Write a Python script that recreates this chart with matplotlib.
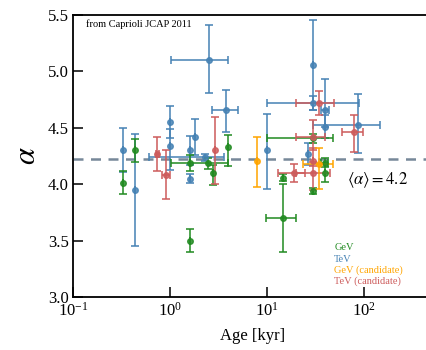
import numpy as np
import matplotlib
matplotlib.use("Agg")
import matplotlib.pyplot as plt

plt.rcParams['font.family'] = ['Liberation Serif', 'DejaVu Serif']
plt.rcParams['mathtext.fontset'] = 'stix'

# GeV detections: age [kyr], alpha, alpha err (-,+), age range (lo, hi)
gev_age = [0.33, 0.44, 1.61, 1.61, 2.48, 2.79, 3.99, 14.7, 14.7, 29.6, 29.6, 39.6, 39.6]
gev_alpha = [4.01, 4.30, 3.50, 4.19, 4.185, 4.10, 4.33, 4.06, 3.70, 4.41, 3.94, 4.19, 4.10]
gev_alo = [0.10, 0.10, 0.10, 0.07, 0.05, 0.11, 0.17, 0.03, 0.30, 0.04, 0.03, 0.04, 0.08]
gev_ahi = [0.11, 0.10, 0.10, 0.07, 0.05, 0.07, 0.11, 0.03, 0.30, 0.04, 0.03, 0.04, 0.08]
gev_tlo = [0.33, 0.44, 1.61, 1.61, 1.02, 2.79, 3.99, 14.7, 9.8, 9.9, 29.6, 36.5, 39.6]
gev_thi = [0.33, 0.44, 1.61, 1.61, 3.94, 2.79, 3.99, 14.7, 19.8, 47.8, 29.6, 43.0, 39.6]

# TeV detections
tev_age = [0.33, 0.44, 1.0, 1.0, 1.61, 1.81, 1.61, 2.30, 2.52, 3.75, 9.9, 29.6, 29.6, 39.6, 39.6, 87.0, 26.7]
tev_alpha = [4.30, 3.95, 4.55, 4.34, 4.30, 4.42, 4.05, 4.24, 5.10, 4.66, 4.30, 5.06, 4.72, 4.66, 4.51, 4.53, 4.27]
tev_alo = [0.19, 0.50, 0.14, 0.21, 0.13, 0.16, 0.04, 0.03, 0.29, 0.20, 0.34, 0.40, 0.06, 0.15, 0.10, 0.25, 0.10]
tev_ahi = [0.20, 0.50, 0.14, 0.15, 0.13, 0.16, 0.04, 0.03, 0.31, 0.18, 0.32, 0.40, 0.06, 0.27, 0.10, 0.27, 0.10]
tev_tlo = [0.33, 0.44, 1.0, 1.0, 1.61, 1.81, 1.61, 0.61, 1.02, 2.69, 9.9, 29.6, 9.9, 36.0, 39.6, 29.8, 26.7]
tev_thi = [0.33, 0.44, 1.0, 1.0, 1.61, 1.81, 1.61, 3.6, 3.99, 5.06, 9.9, 29.6, 88.0, 43.5, 39.6, 146.0, 26.7]

# GeV candidates
gevc_age = [7.94, 34.6]
gevc_alpha = [4.21, 4.18]
gevc_alo = [0.23, 0.22]
gevc_ahi = [0.21, 0.14]
gevc_tlo = [7.94, 23.7]
gevc_thi = [7.94, 48.2]

# TeV candidates
tevc_age = [0.74, 0.90, 2.91, 34.6, 29.6, 29.6, 19.0, 29.6, 78.9]
tevc_alpha = [4.27, 4.08, 4.30, 4.72, 4.42, 4.21, 4.10, 4.10, 4.46]
tevc_alo = [0.15, 0.21, 0.30, 0.11, 0.12, 0.05, 0.08, 0.15, 0.17]
tevc_ahi = [0.15, 0.22, 0.30, 0.11, 0.15, 0.11, 0.08, 0.10, 0.15]
tevc_tlo = [0.71, 0.82, 2.91, 19.9, 19.9, 29.6, 13.1, 20.0, 58.9]
tevc_thi = [0.77, 0.99, 2.91, 49.1, 40.0, 29.6, 24.7, 45.0, 98.0]

mean_alpha = 4.22

series = [
    ("TeV", '#4682b4', tev_age, tev_alpha, tev_alo, tev_ahi, tev_tlo, tev_thi),
    ("GeV", '#228b22', gev_age, gev_alpha, gev_alo, gev_ahi, gev_tlo, gev_thi),
    ("TeV (candidate)", '#cd5c5c', tevc_age, tevc_alpha, tevc_alo, tevc_ahi, tevc_tlo, tevc_thi),
    ("GeV (candidate)", '#ffa500', gevc_age, gevc_alpha, gevc_alo, gevc_ahi, gevc_tlo, gevc_thi),
]

fig = plt.figure(figsize=(4.27, 3.5), dpi=100)
ax = fig.add_axes([0.171, 0.151, 0.84, 0.806])

ax.axhline(mean_alpha, color='#778899', lw=1.8, ls=(0, (4, 3)), zorder=1)

for name, col, t, a, alo, ahi, tlo, thi in series:
    t = np.array(t)
    xerr = [t - np.array(tlo), np.array(thi) - t]
    yerr = [alo, ahi]
    ax.errorbar(t, a, yerr=yerr, xerr=xerr, fmt='o', color=col, ms=4,
                ecolor=col, elinewidth=1.3, capsize=3, capthick=1.3,
                alpha=0.85, zorder=2)

ax.set_xscale('log')
ax.set_xlim(0.1, 500)
ax.set_ylim(3.0, 5.5)
ax.set_yticks([3.0, 3.5, 4.0, 4.5, 5.0, 5.5])
ax.set_xticks([0.1, 1, 10, 100])
ax.minorticks_off()
ax.tick_params(direction='in', length=7.5, width=1.1, labelsize=12, pad=3)
for s in ax.spines.values():
    s.set_linewidth(1.3)
ax.spines['right'].set_visible(False)

ax.set_xlabel('Age [kyr]', fontsize=12, labelpad=6)
ax.set_ylabel(r'$\alpha$', fontsize=22, labelpad=4)

ax.text(0.035, 0.985, 'from Caprioli JCAP 2011', transform=ax.transAxes,
        fontsize=7.5, va='top', ha='left')
ax.text(0.935, 0.415, r'$\langle\alpha\rangle = 4.2$', transform=ax.transAxes,
        fontsize=12, ha='right', va='center')

leg_y = 0.175
for name, col in [("GeV", '#228b22'), ("TeV", '#4682b4'),
                  ("GeV (candidate)", '#ffa500'), ("TeV (candidate)", '#cd5c5c')]:
    ax.text(0.728, leg_y, name, color=col, transform=ax.transAxes,
            fontsize=7.5, va='center', ha='left')
    leg_y -= 0.04

fig.savefig('out.png', dpi=100)
